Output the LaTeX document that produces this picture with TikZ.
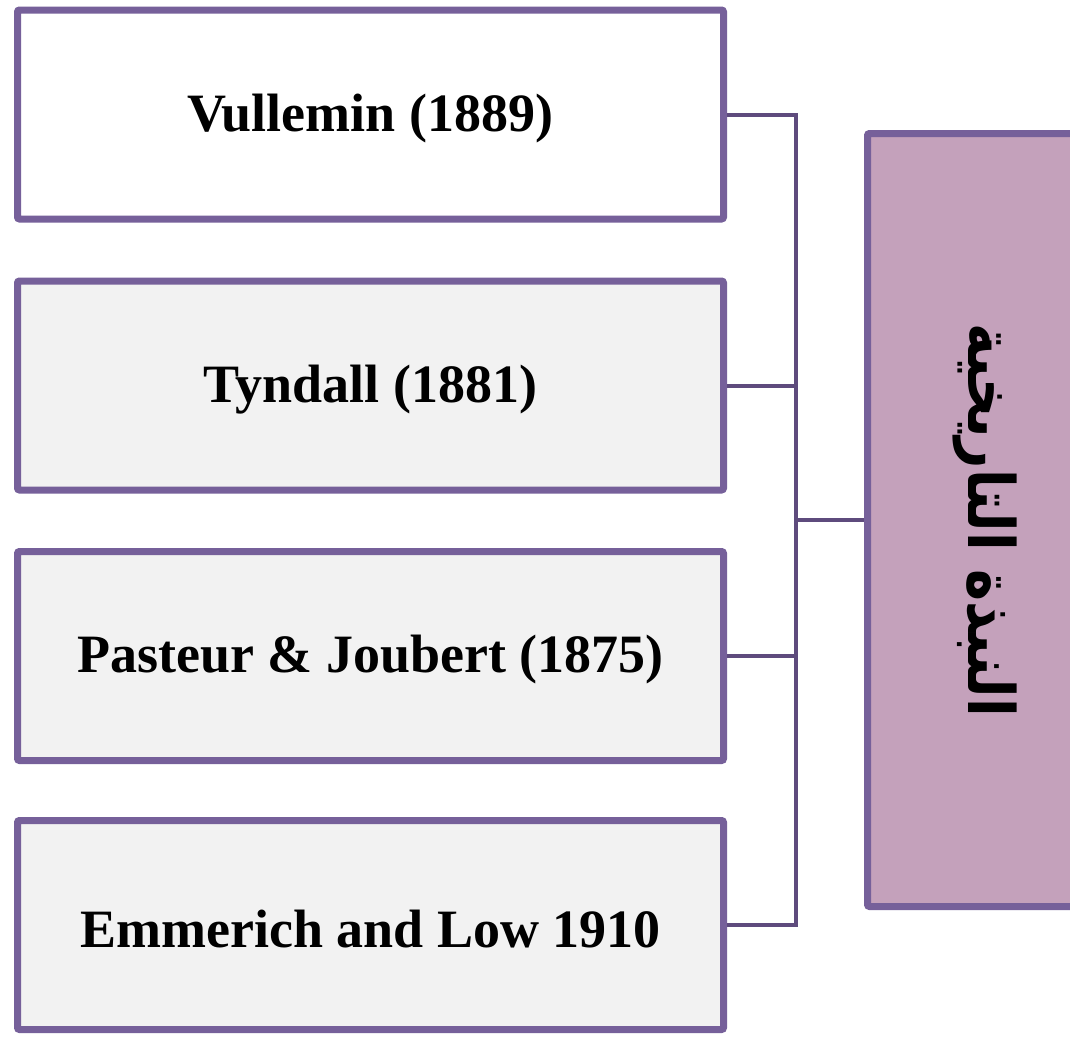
\documentclass[tikz,border=0pt]{standalone}
\usepackage{fontspec}
\setmainfont{Liberation Serif}
\newfontfamily\arabicfont[Script=Arabic]{DejaVu Sans}
\TeXXeTstate=1
\usetikzlibrary{shadows}
\definecolor{bordc}{RGB}{118,96,154}
\definecolor{connc}{RGB}{94,75,125}
\definecolor{greyfill}{RGB}{242,242,242}
\definecolor{mauve}{RGB}{196,161,187}
\newcommand{\boxtext}[1]{\raisebox{-4pt}[\height][\depth]{#1}}
\tikzset{
  box/.style={draw=bordc, line width=7pt, minimum width=706pt, minimum height=209pt,
    inner sep=0pt, rounded corners=2pt, font=\fontsize{54}{60}\selectfont\bfseries,
    drop shadow={opacity=0.25, shadow xshift=1pt, shadow yshift=-2pt}},
  conn/.style={draw=connc, line width=4pt},
}
\begin{document}
\begin{tikzpicture}[x=1pt,y=-1pt]
\useasboundingbox (0,0) rectangle (1070,1036);
\fill[white] (0,0) rectangle (1070,1036);
\node[box, fill=white] (b1) at (370.5,114.5) {\boxtext{Vullemin (1889)}};
\node[box, fill=greyfill] (b2) at (370.5,385.5) {\boxtext{Tyndall (1881)}};
\node[box, fill=greyfill] (b3) at (370.5,656) {\boxtext{Pasteur \& Joubert (1875)}};
\node[box, fill=greyfill] (b4) at (370.5,925) {\boxtext{Emmerich and Low 1910}};
\node[draw=bordc, fill=mauve, line width=7pt, minimum width=220pt, minimum height=773pt,
  rounded corners=2pt,
  drop shadow={opacity=0.25, shadow xshift=1pt, shadow yshift=-2pt}] (r) at (977.5,520) {};
\node[rotate=-90, xscale=0.85, font=\fontsize{64}{66}\selectfont\arabicfont\bfseries] (rt) at (985,520) {\beginR النبذة التاريخية\endR};
\coordinate (bus) at (796,520);
\draw[conn] (b1.east) -- (b1.east -| bus) -- (b4.east -| bus) -- (b4.east);
\draw[conn] (b2.east) -- (b2.east -| bus);
\draw[conn] (b3.east) -- (b3.east -| bus);
\draw[conn] (bus) -- (r.west);
\end{tikzpicture}
\end{document}
